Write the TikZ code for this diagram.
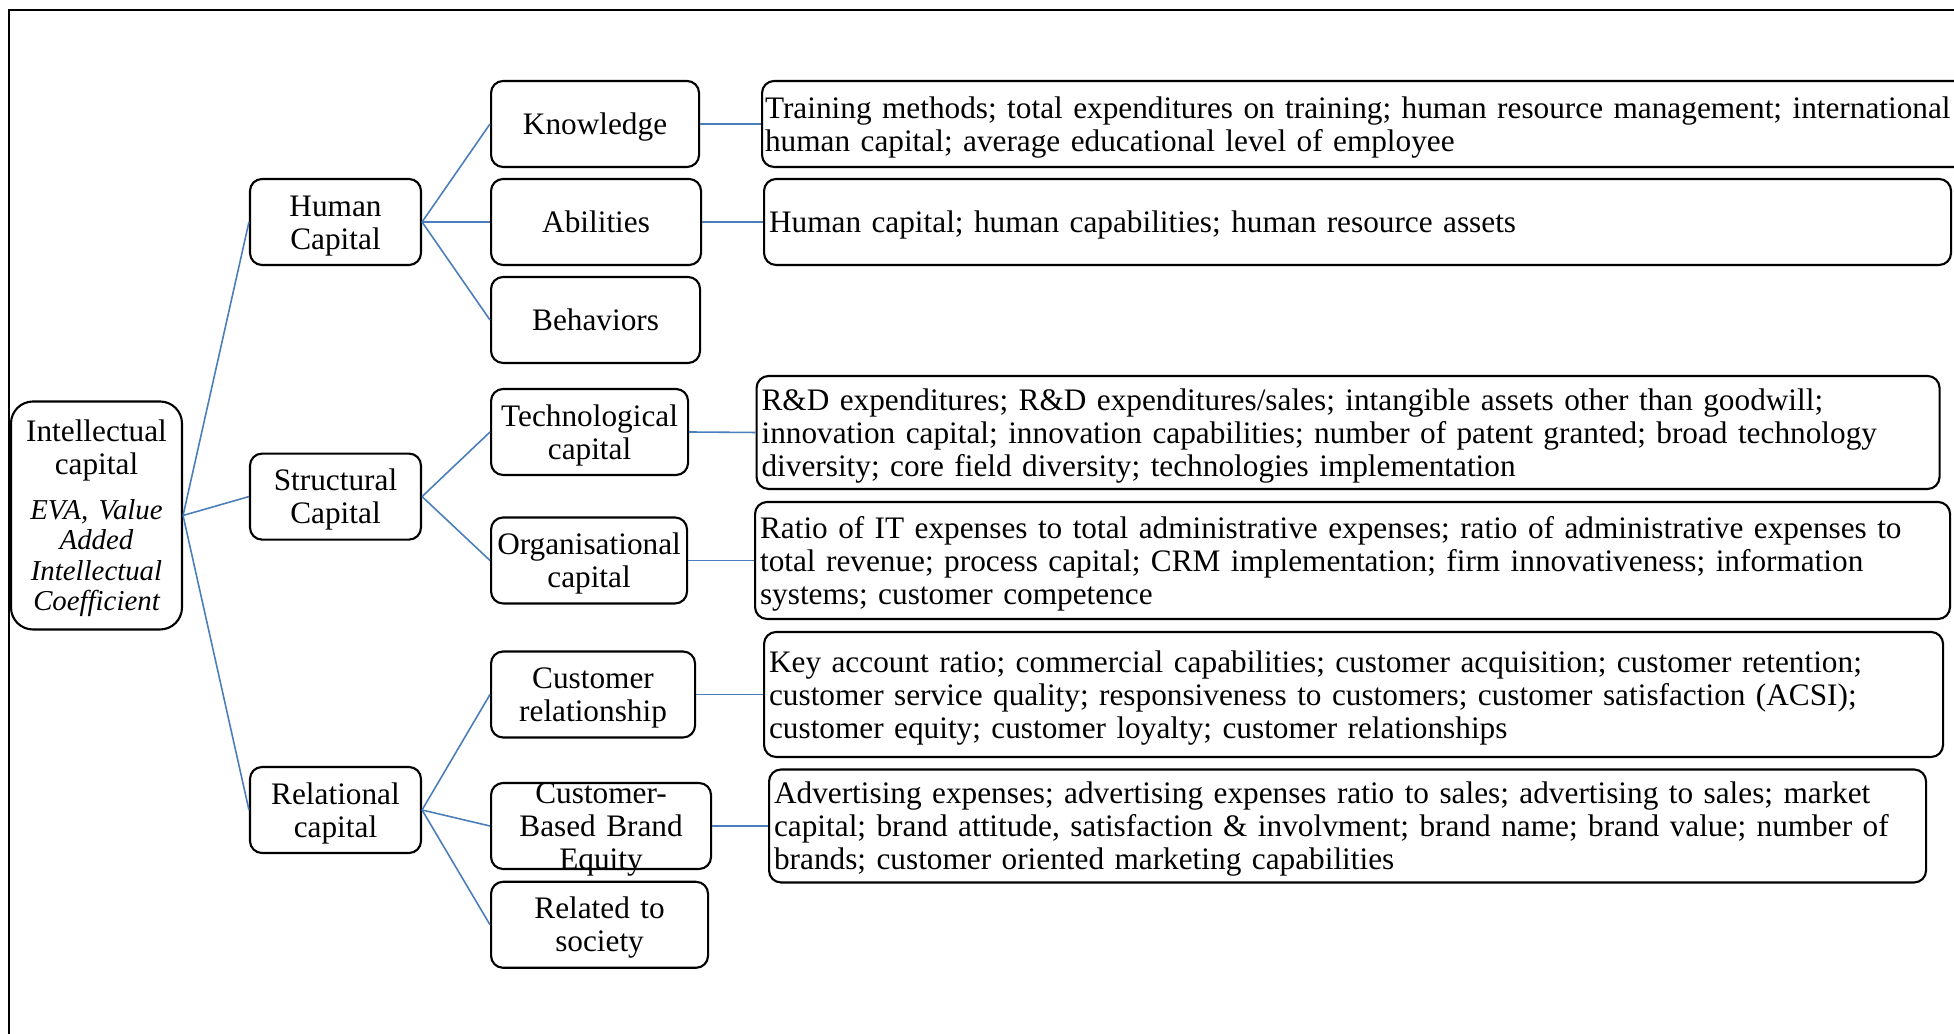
\documentclass[tikz,border=0pt]{standalone}
\usepackage{fontspec}
\setmainfont{Liberation Serif}
\usetikzlibrary{positioning}
\definecolor{linkblue}{HTML}{4A7EBB}
\newcommand{\evaline}[1]{{\fontsize{8.2}{8.7}\selectfont\itshape #1}}
\newcommand{\topstrut}{\noindent\vrule width 0pt height 0.9em depth 0pt\relax}
\newcommand{\botstrut}{\vrule width 0pt height 0pt depth 0.22em\relax}

\begin{document}
\begin{tikzpicture}[
  font=\fontsize{8.9}{9.39}\selectfont,
  txt/.style={execute at begin node=\topstrut, execute at end node=\botstrut},
  box/.style={txt, rectangle, draw=black, line width=0.6pt, rounded corners=0.12cm, align=center, inner sep=0pt},
  topic/.style={box, text width=1.71cm, minimum height=0.86cm},
  item/.style={box, anchor=west, text width=#1, minimum height=0.86cm},
  detail/.style={box, anchor=west, align=left, inner xsep=0.05cm, text width=#1},
  link/.style={draw=linkblue, line width=0.45pt}
]
  \useasboundingbox (0,0) rectangle (19.54,10.34);
  % frame
  \draw[line width=0.6pt] (0.09,0) -- (0.09,10.24) -- (19.54,10.24);

  \node[box, text width=1.71cm, minimum height=2.28cm, rounded corners=0.22cm] (ic) at (0.965,5.185)
    {Intellectual\\capital\\[0.12cm]\evaline{EVA, Value}\\[-0.03cm]\evaline{Added}\\[-0.02cm]\evaline{Intellectual}\\[-0.03cm]\evaline{Coefficient}};

  \node[topic] (hc) at (3.355,8.12) {Human\\Capital};
  \node[topic] (sc) at (3.355,5.374) {Structural\\Capital};
  \node[topic] (rc) at (3.355,2.24) {Relational\\capital};

  \node[item=2.08cm] (know) at (4.90,9.10) {Knowledge};
  \node[item=2.10cm] (abil) at (4.90,8.12) {Abilities};
  \node[item=2.09cm] (behav) at (4.90,7.14) {Behaviors};
  \node[item=1.97cm] (tech) at (4.90,6.02) {Technological\\capital};
  \node[item=1.96cm] (orga) at (4.90,4.735) {Organisational\\capital};
  \node[item=2.04cm] (crel) at (4.90,3.395) {Customer\\relationship};
  \node[item=2.20cm] (cbbe) at (4.90,2.08) {};
  \node[txt, align=center, text width=2.20cm, inner sep=0pt] (cbbetext) at (cbbe.center) {Customer-\\Based Brand\\Equity};
  \node[item=2.17cm] (soc) at (4.90,1.092) {Related to\\society};

  \node[detail=12.24cm, inner xsep=0.03cm, minimum height=0.86cm] (d1) at (7.61,9.10)
    {Training methods; total expenditures on training; human resource management; international\\human capital; average educational level of employee};
  \node[detail=11.77cm, minimum height=0.86cm] (d2) at (7.63,8.12)
    {Human capital; human capabilities; human resource assets};
  \node[detail=11.73cm, minimum height=1.13cm] (d3) at (7.555,6.015)
    {R\&D expenditures; R\&D expenditures/sales; intangible assets other than goodwill;\\innovation capital; innovation capabilities; number of patent granted; broad technology\\diversity; core field diversity; technologies implementation};
  \node[detail=11.85cm, minimum height=1.17cm] (d4) at (7.54,4.735)
    {Ratio of IT expenses to total administrative expenses; ratio of administrative expenses to\\total revenue; process capital; CRM implementation; firm innovativeness; information\\systems; customer competence};
  \node[detail=11.69cm, minimum height=1.25cm] (d5) at (7.63,3.395)
    {Key account ratio; commercial capabilities; customer acquisition; customer retention;\\customer service quality; responsiveness to customers; customer satisfaction (ACSI);\\customer equity; customer loyalty; customer relationships};
  \node[detail=11.47cm, minimum height=1.13cm] (d6) at (7.68,2.08)
    {Advertising expenses; advertising expenses ratio to sales; advertising to sales; market\\capital; brand attitude, satisfaction \& involvment; brand name; brand value; number of\\brands; customer oriented marketing capabilities};

  \draw[link] (ic.east) -- (hc.west);
  \draw[link] (ic.east) -- (sc.west);
  \draw[link] (ic.east) -- (rc.west);
  \draw[link] (hc.east) -- (know.west);
  \draw[link] (hc.east) -- (abil.west);
  \draw[link] (hc.east) -- (behav.west);
  \draw[link] (sc.east) -- (tech.west);
  \draw[link] (sc.east) -- (orga.west);
  \draw[link] (rc.east) -- (crel.west);
  \draw[link] (rc.east) -- (cbbe.west);
  \draw[link] (rc.east) -- (soc.west);
  \draw[link] (know.east) -- (d1.west);
  \draw[link] (abil.east) -- (d2.west);
  \draw[link] (tech.east) -- (d3.west);
  \draw[link] (orga.east) -- (d4.west);
  \draw[link] (crel.east) -- (d5.west);
  \draw[link] (cbbe.east) -- (d6.west);
\end{tikzpicture}
\end{document}
